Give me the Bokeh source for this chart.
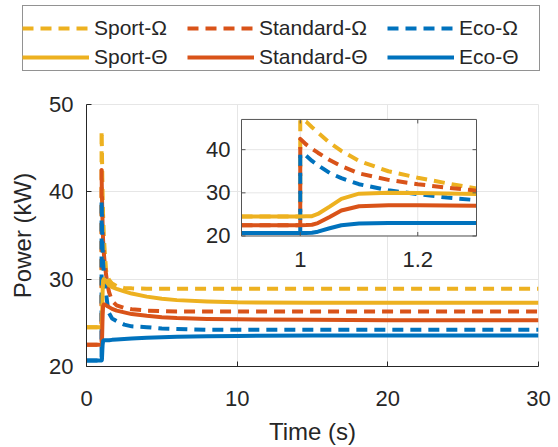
import numpy as np
from bokeh.plotting import figure
from bokeh.models import Range1d, Legend, LegendItem, FixedTicker
from bokeh.core.properties import value
from bokeh.embed import file_html
from bokeh.resources import INLINE

# ---------------- data ----------------
time_s = [0, 0.9, 1.0, 1.0, 1.01, 1.02, 1.03, 1.05, 1.07, 1.1, 1.15, 1.2, 1.25, 1.3,
          1.4, 1.5, 1.7, 2.0, 2.5, 3, 4, 5, 6, 8, 10, 15, 20, 25, 30]

sport_omega = [24.5, 24.5, 24.5, 47.0, 46.5, 45.2, 44.0, 41.6, 39.7, 37.4, 35.0, 33.5, 32.2, 31.0,
               30.3, 29.9, 29.5, 29.2, 29.0, 28.95, 28.9, 28.9, 28.9, 28.9, 28.9, 28.9, 28.9, 28.9, 28.9]
standard_omega = [22.5, 22.5, 22.5, 42.5, 41.2, 40.2, 39.3, 37.6, 36.2, 34.5, 33.0, 32.0, 31.2, 30.5,
                  29.3, 28.5, 27.5, 27.0, 26.7, 26.55, 26.4, 26.35, 26.3, 26.3, 26.3, 26.3, 26.3, 26.3, 26.3]
eco_omega = [20.7, 20.7, 20.7, 39.0, 38.6, 37.4, 36.4, 34.6, 33.4, 32.0, 30.6, 29.7, 28.9, 28.3,
             27.0, 26.1, 25.5, 25.2, 24.8, 24.6, 24.5, 24.35, 24.3, 24.2, 24.2, 24.2, 24.2, 24.2, 24.2]
sport_theta = [24.5, 24.5, 24.5, 24.5, 24.55, 24.6, 25.1, 26.8, 28.6, 29.8, 30.0, 29.95, 29.85, 29.75,
               29.5, 29.3, 29.1, 28.9, 28.6, 28.35, 28.0, 27.75, 27.6, 27.45, 27.35, 27.3, 27.3, 27.3, 27.3]
standard_theta = [22.5, 22.5, 22.5, 22.5, 22.52, 22.6, 23.0, 24.4, 25.9, 26.9, 27.1, 27.1, 27.05, 27.0,
                  26.9, 26.8, 26.6, 26.4, 26.2, 26.0, 25.8, 25.65, 25.55, 25.45, 25.4, 25.35, 25.3, 25.3, 25.3]
eco_theta = [20.7, 20.7, 20.7, 20.7, 20.72, 20.75, 21.0, 21.8, 22.5, 22.9, 23.0, 23.0, 23.0, 23.0,
             23.0, 23.0, 23.05, 23.1, 23.15, 23.2, 23.3, 23.35, 23.4, 23.45, 23.5, 23.55, 23.55, 23.55, 23.55]

series_names = ["Sport-Ω", "Standard-Ω", "Eco-Ω", "Sport-Θ", "Standard-Θ", "Eco-Θ"]
series_values = [sport_omega, standard_omega, eco_omega, sport_theta, standard_theta, eco_theta]
series_colors = ["#EDB120", "#D95319", "#0072BD", "#EDB120", "#D95319", "#0072BD"]
series_dashed = [True, True, True, False, False, False]

main_x_ticks = [0, 10, 20, 30]
main_y_ticks = [20, 30, 40, 50]
inset_x_ticks = [1.0, 1.2]
inset_x_labels = ["1", "1.2"]
inset_y_ticks = [20, 30, 40]
inset_y_labels = ["20", "30", "40"]
inset_x_lim = (0.9, 1.3)
inset_y_lim = (20, 47)

# ---------------- style / layout ----------------
FONT = "Liberation Sans"
TXT = "#262626"
GRID = "#E6E6E6"
LW = 4
DASH = "11 7"

W = 558
LEG_H = 75                                  # legend strip height
H = 372                                     # main figure height
FL, FT, FW, FH = 86, 29, 452, 263           # frame left, top, width, height (px)
X0, X1, Y0, Y1 = 0, 30, 20, 50

p = figure(width=W, height=H, x_range=Range1d(X0, X1), y_range=Range1d(Y0, Y1),
           output_backend="svg", toolbar_location=None,
           min_border_left=FL, min_border_top=FT,
           min_border_right=W - FL - FW, min_border_bottom=H - FT - FH)
p.outline_line_color = GRID
p.background_fill_color = "white"
p.border_fill_color = "white"

for ax in (p.xaxis[0], p.yaxis[0]):
    ax.axis_line_color = TXT
    ax.axis_line_width = 1
    ax.major_tick_line_color = TXT
    ax.major_tick_in = 5
    ax.major_tick_out = 0
    ax.minor_tick_line_color = None
    ax.major_label_text_font = FONT
    ax.major_label_text_font_size = "22px"
    ax.major_label_text_color = TXT
    ax.axis_label_text_font = FONT
    ax.axis_label_text_font_size = "24px"
    ax.axis_label_text_font_style = "normal"
    ax.axis_label_text_color = TXT

p.xaxis.ticker = FixedTicker(ticks=main_x_ticks)
p.yaxis.ticker = FixedTicker(ticks=main_y_ticks)
p.xaxis.axis_label = "Time (s)"
p.yaxis.axis_label = "Power (kW)"
p.xaxis.major_label_standoff = 24
p.yaxis.major_label_standoff = 13
p.xaxis.axis_label_standoff = 9
p.yaxis.axis_label_standoff = 10
p.grid.grid_line_color = GRID
p.grid.grid_line_width = 1

for vals, col, dashed in zip(series_values, series_colors, series_dashed):
    p.line(time_s, vals, line_color=col, line_width=LW,
           line_dash=DASH if dashed else "solid", line_join="round")

# ---------------- inset ----------------
IL, IR, IT, IB = 155, 390, 15, 132          # inset box in px, relative to frame top-left
def sx_to_data(px):
    return X0 + px / FW * (X1 - X0)
def sy_to_data(py):
    return Y0 + (FH - py) / FH * (Y1 - Y0)

inset = p.subplot(
    x_source=Range1d(*inset_x_lim), y_source=Range1d(*inset_y_lim),
    x_target=Range1d(sx_to_data(IL), sx_to_data(IR)),
    y_target=Range1d(sy_to_data(IB), sy_to_data(IT)),
)

inset.quad(left=[inset_x_lim[0]], right=[inset_x_lim[1]],
           bottom=[inset_y_lim[0]], top=[inset_y_lim[1]],
           fill_color="white", line_color=None)
nx, ny = len(inset_x_ticks), len(inset_y_ticks)
inset.segment(x0=inset_x_ticks, x1=inset_x_ticks,
              y0=[inset_y_lim[0]] * nx, y1=[inset_y_lim[1]] * nx,
              line_color=GRID, line_width=1)
inset.segment(x0=[inset_x_lim[0]] * ny, x1=[inset_x_lim[1]] * ny,
              y0=inset_y_ticks, y1=inset_y_ticks, line_color=GRID, line_width=1)

t_arr = np.array(time_s)
mask = (t_arr >= inset_x_lim[0]) & (t_arr <= inset_x_lim[1])
for vals, col, dashed in zip(series_values, series_colors, series_dashed):
    v = np.array(vals)
    inset.line(t_arr[mask], v[mask], line_color=col, line_width=LW,
               line_dash=DASH if dashed else "solid", line_join="round")

BOX = "#555555"
inset.quad(left=[inset_x_lim[0]], right=[inset_x_lim[1]],
           bottom=[inset_y_lim[0]], top=[inset_y_lim[1]],
           fill_alpha=0, line_color=BOX, line_width=1)
inset.ray(x=inset_x_ticks, y=[inset_y_lim[0]] * nx, length=4, length_units="screen",
          angle=np.pi / 2, line_color=BOX)
inset.ray(x=inset_x_ticks, y=[inset_y_lim[1]] * nx, length=4, length_units="screen",
          angle=-np.pi / 2, line_color=BOX)
inset.ray(x=[inset_x_lim[0]] * ny, y=inset_y_ticks, length=4, length_units="screen",
          angle=0, line_color=BOX)
inset.ray(x=[inset_x_lim[1]] * ny, y=inset_y_ticks, length=4, length_units="screen",
          angle=np.pi, line_color=BOX)
inset.text(x=inset_x_ticks, y=[inset_y_lim[0]] * nx, text=inset_x_labels,
           text_align="center", text_baseline="top", y_offset=16,
           text_font=value(FONT), text_font_size="22px", text_color=TXT)
inset.text(x=[inset_x_lim[0]] * ny, y=inset_y_ticks, text=inset_y_labels,
           text_align="right", text_baseline="middle", x_offset=-11,
           text_font=value(FONT), text_font_size="22px", text_color=TXT)

# ---------------- legend strip: its own root, drawn above the plot ----------------
lg = figure(width=W, height=LEG_H, x_range=Range1d(0, 1), y_range=Range1d(0, 1),
            x_axis_location=None, y_axis_location=None,
            output_backend="svg", toolbar_location=None,
            min_border_left=0, min_border_right=0, min_border_top=0, min_border_bottom=0)
lg.grid.visible = False
lg.outline_line_color = None
lg.border_fill_color = "white"
lg.background_fill_color = "white"

# legend proxies: same series, styled the same (they fall outside this strip's ranges)
proxies = []
for vals, col, dashed in zip(series_values, series_colors, series_dashed):
    proxies.append(lg.line(time_s, vals, line_color=col, line_width=LW,
                           line_dash=DASH if dashed else "solid"))
box_proxy = lg.line(time_s, sport_omega, line_alpha=0)

# outer legend frame
box_leg = Legend(items=[LegendItem(label=" ", renderers=[box_proxy])],
                 location=(22, 4), orientation="vertical",
                 glyph_width=67, glyph_height=24, label_height=24, label_standoff=5,
                 label_width=404, padding=20, margin=0,
                 label_text_font=FONT, label_text_font_size="21px",
                 border_line_color=TXT, border_line_width=1,
                 background_fill_color="white", background_fill_alpha=1)
lg.add_layout(box_leg, "center")

common = dict(orientation="vertical", glyph_width=67, glyph_height=24, label_height=24,
              label_standoff=5, spacing=5, padding=6, margin=0,
              label_text_font=FONT, label_text_font_size="21px", label_text_color=TXT,
              border_line_color=None, background_fill_alpha=0)
cols_x = [22, 187, 387]       # left edge of each column block (px)
LEG_BOTTOM = 6                # px above the strip's bottom edge
for ci in range(3):
    items = [LegendItem(label=series_names[ci], renderers=[proxies[ci]]),
             LegendItem(label=series_names[ci + 3], renderers=[proxies[ci + 3]])]
    lg.add_layout(Legend(items=items, location=(cols_x[ci], LEG_BOTTOM), **common), "center")

open("out.html", "w").write(file_html([lg, p], INLINE))
